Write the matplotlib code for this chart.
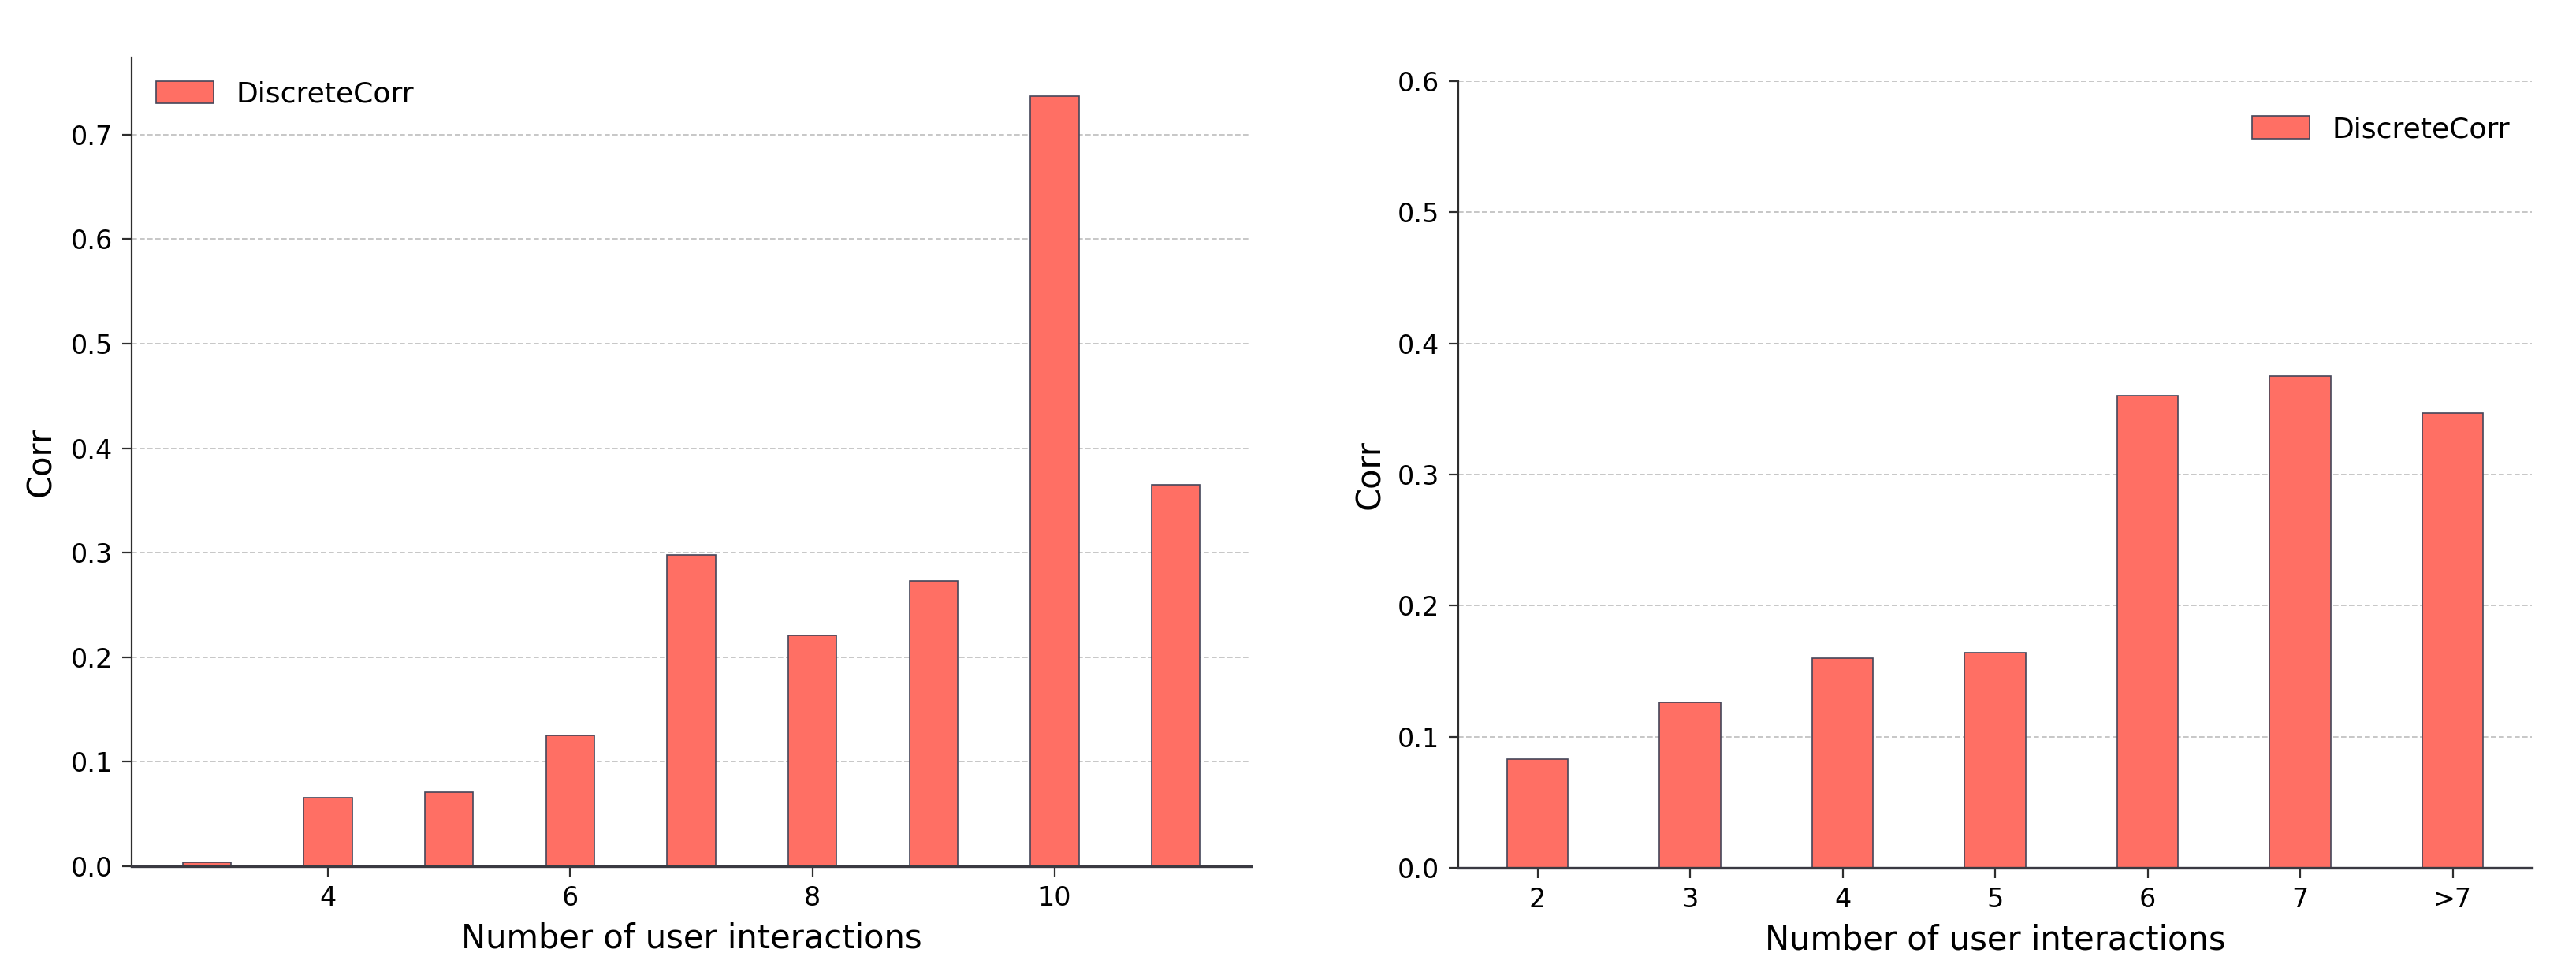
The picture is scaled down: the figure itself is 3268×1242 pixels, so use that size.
import matplotlib
matplotlib.use("Agg")
import matplotlib.pyplot as plt
import numpy as np

# ---- data ----
left_x = [3, 4, 5, 6, 7, 8, 9, 10, 11]
left_vals = [0.004, 0.066, 0.071, 0.125, 0.298, 0.221, 0.273, 0.737, 0.365]
left_yticks = [0.0, 0.1, 0.2, 0.3, 0.4, 0.5, 0.6, 0.7]

right_labels = ["2", "3", "4", "5", "6", "7", ">7"]
right_vals = [0.083, 0.126, 0.160, 0.164, 0.360, 0.375, 0.347]
right_yticks = [0.0, 0.1, 0.2, 0.3, 0.4, 0.5, 0.6]

series_name = "DiscreteCorr"
xlabel = "Number of user interactions"
ylabel = "Corr"

# ---- style ----
BAR = "#FF6F64"
EDGE = "#45475a"
SPINE = "#2e2e2e"
GRID = "#bdbdbd"

plt.rcParams["font.family"] = ["DejaVu Sans"]

fig = plt.figure(figsize=(32.68, 12.42), dpi=100)
ax1 = fig.add_axes([0.0511, 0.1151, 0.4345, 0.8264])
ax2 = fig.add_axes([0.5661, 0.1135, 0.4168, 0.8036])


def style(ax, labelpad):
    for s in ["top", "right"]:
        ax.spines[s].set_visible(False)
    ax.spines["left"].set_linewidth(1.6)
    ax.spines["left"].set_color(SPINE)
    ax.spines["bottom"].set_linewidth(2.4)
    ax.spines["bottom"].set_color("#3a3a42")
    ax.tick_params(axis="both", direction="out", length=9, width=1.6,
                   color=SPINE, labelsize=24, pad=8)
    ax.yaxis.grid(True, linestyle=(0, (4, 2)), color=GRID, linewidth=1.2)
    ax.xaxis.grid(False)
    ax.set_axisbelow(True)
    ax.set_xlabel(xlabel, fontsize=30, labelpad=10)
    ax.set_ylabel(ylabel, fontsize=30, labelpad=labelpad)


# left panel
ax1.bar(left_x, left_vals, width=0.4, color=BAR, edgecolor=EDGE,
        linewidth=1.2, label=series_name)
ax1.set_yticks(left_yticks)
ax1.set_yticklabels([f"{v:.1f}" for v in left_yticks])
ax1.set_xticks([4, 6, 8, 10])
style(ax1, 12)
ax1.legend(loc="upper left", frameon=False, fontsize=26,
           handlelength=2.0, handleheight=0.85, handletextpad=0.8,
           bbox_to_anchor=(0.012, 0.985), borderaxespad=0)

# right panel
xr = np.arange(len(right_labels))
ax2.bar(xr, right_vals, width=0.4, color=BAR, edgecolor=EDGE,
        linewidth=1.2, label=series_name)
ax2.set_xticks(xr)
ax2.set_xticklabels(right_labels)
ax2.set_ylim(0, 0.6)
ax2.set_yticks(right_yticks)
ax2.set_yticklabels([f"{v:.1f}" for v in right_yticks])
style(ax2, 10)
ax2.legend(loc="upper right", frameon=False, fontsize=26,
           handlelength=2.0, handleheight=0.85, handletextpad=0.8,
           bbox_to_anchor=(0.99, 0.97), borderaxespad=0)

fig.savefig("out.png", dpi=100)
